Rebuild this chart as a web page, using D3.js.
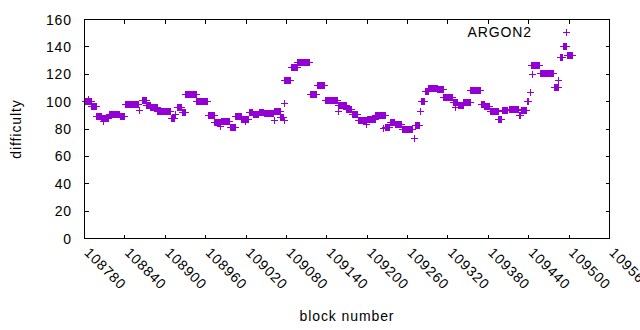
<!DOCTYPE html>
<html>
<head>
<meta charset="utf-8">
<script src="https://cdn.jsdelivr.net/npm/d3@7"></script>
<style>
  body { margin: 0; background: #fff; }
  text { font-family: "Liberation Sans", Arial, sans-serif; font-size: 14px; fill: #000; letter-spacing: 0.9px; }
</style>
</head>
<body>
<div id="main"></div>
<script>
// runs of blocks sharing the same difficulty
var runStart = [108781, 108785, 108789, 108797, 108804, 108808, 108816, 108832, 108840, 108861,
  108865, 108872, 108878, 108888, 108908, 108914, 108917, 108925, 108930, 108946,
  108963, 108973, 108982, 108983, 108996, 109004, 109013, 109018, 109024, 109030,
  109039, 109046, 109061, 109061, 109071, 109076, 109076, 109077, 109087, 109096,
  109115, 109125, 109137, 109156, 109157, 109169, 109177, 109186, 109198, 109199,
  109212, 109223, 109227, 109234, 109241, 109251, 109269, 109271, 109278, 109280,
  109286, 109291, 109304, 109313, 109327, 109331, 109335, 109343, 109353, 109369,
  109374, 109382, 109395, 109400, 109411, 109425, 109428, 109437, 109442, 109443,
  109445, 109456, 109477, 109484, 109486, 109491, 109497];
var runEnd = [108789, 108785, 108797, 108804, 108815, 108808, 108831, 108839, 108860, 108861,
  108871, 108877, 108887, 108907, 108913, 108914, 108924, 108929, 108945, 108962,
  108972, 108981, 108982, 108995, 109003, 109012, 109023, 109018, 109029, 109038,
  109045, 109060, 109061, 109070, 109075, 109076, 109076, 109086, 109095, 109114,
  109124, 109136, 109155, 109156, 109168, 109176, 109185, 109198, 109198, 109211,
  109226, 109223, 109233, 109240, 109250, 109266, 109269, 109277, 109278, 109285,
  109290, 109303, 109312, 109326, 109334, 109331, 109342, 109352, 109368, 109373,
  109381, 109394, 109399, 109408, 109424, 109427, 109436, 109439, 109442, 109455,
  109445, 109476, 109483, 109484, 109490, 109496, 109504];
var runValue = [100.8, 102, 96.5, 89.8, 88.4, 85.5, 91.2, 89.3, 98.6, 94,
  100.9, 97.7, 96.3, 93.5, 88.2, 91, 96.3, 92.4, 105.8, 100.8,
  90, 85.3, 82, 86.2, 81.3, 89.2, 87.5, 86, 92.4, 90.7,
  92.4, 92, 86.3, 93.5, 88.7, 98.7, 86.3, 116, 125.5, 129.1,
  105.3, 112.3, 101.4, 93.1, 97.7, 94.8, 91.2, 86.3, 84, 87,
  90.4, 81, 81.4, 85.1, 83.4, 80.3, 73.7, 82.7, 92.8, 100.7,
  108, 110.2, 109.4, 103.7, 99.5, 96, 97.5, 99.4, 108.7, 98.5,
  97, 93.1, 87.5, 93.8, 94.6, 90, 93.6, 100.2, 107, 127,
  120, 120.6, 110.9, 115.5, 132.8, 140.8, 134.2];

var xTicks = [108780, 108840, 108900, 108960, 109020, 109080, 109140, 109200,
  109260, 109320, 109380, 109440, 109500, 109560];
var yTicks = [0, 20, 40, 60, 80, 100, 120, 140, 160];
var seriesName = "ARGON2";

var COLOR = "#9400d3";
var W = 640, H = 330;
var margin = { top: 19.5, right: 30.5, bottom: 91.5, left: 84.5 };

// one point per block
var points = [];
for (var i = 0; i < runStart.length; i++) {
  for (var b = runStart[i]; b <= runEnd[i]; b++) {
    points.push([b, runValue[i]]);
  }
}

var svg = d3.select("#main").append("svg")
  .attr("width", W)
  .attr("height", H);

var x = d3.scaleLinear()
  .domain([xTicks[0], xTicks[xTicks.length - 1]])
  .range([margin.left, W - margin.right]);
var y = d3.scaleLinear()
  .domain([0, 160])
  .range([H - margin.bottom, margin.top]);

var plusPath = function(d) {
  var px = Math.round(x(d[0])) + 0.5, py = Math.round(y(d[1])) + 0.5, s = 3.5;
  return "M" + (px - s) + "," + py + "H" + (px + s) + "M" + px + "," + (py - s) + "V" + (py + s);
};

// ticks (inward, mirrored on all sides)
var tl = 4;
var ticks = svg.append("g").attr("stroke", "#000").attr("stroke-width", 1).attr("shape-rendering", "crispEdges");
xTicks.forEach(function(t) {
  var xx = Math.round(x(t) - 0.5) + 0.5;
  ticks.append("line").attr("x1", xx).attr("x2", xx).attr("y1", y(0)).attr("y2", y(0) - tl);
  ticks.append("line").attr("x1", xx).attr("x2", xx).attr("y1", y(160)).attr("y2", y(160) + tl);
});
yTicks.forEach(function(t) {
  var yy = Math.round(y(t) - 0.5) + 0.5;
  ticks.append("line").attr("x1", x.range()[0]).attr("x2", x.range()[0] + tl).attr("y1", yy).attr("y2", yy);
  ticks.append("line").attr("x1", x.range()[1]).attr("x2", x.range()[1] - tl).attr("y1", yy).attr("y2", yy);
});

// tick labels
svg.append("g").selectAll("text")
  .data(yTicks)
  .enter().append("text")
  .attr("x", 72)
  .attr("y", function(d) { return y(d); })
  .attr("dy", "0.36em")
  .attr("text-anchor", "end")
  .text(function(d) { return d; });

svg.append("g").selectAll("text")
  .data(xTicks)
  .enter().append("text")
  .attr("transform", function(d) { return "translate(" + (x(d) - 1) + "," + (y(0) + 15) + ") rotate(45)"; })
  .attr("text-anchor", "start")
  .text(function(d) { return d; });

// points
svg.append("g")
  .attr("fill", "none")
  .attr("stroke", COLOR)
  .attr("stroke-width", 1.4)
  .attr("shape-rendering", "crispEdges")
  .selectAll("path")
  .data(points)
  .enter().append("path")
  .attr("d", plusPath);

// border
svg.append("rect")
  .attr("x", x.range()[0])
  .attr("y", y(160))
  .attr("width", x.range()[1] - x.range()[0])
  .attr("height", y(0) - y(160))
  .attr("fill", "none")
  .attr("stroke", "#000")
  .attr("shape-rendering", "crispEdges");

// key
svg.append("text")
  .attr("x", 532)
  .attr("y", 37)
  .attr("text-anchor", "end")
  .text(seriesName);
svg.append("path")
  .attr("d", "M563,32.5H570M566.5,29V36")
  .attr("stroke", COLOR)
  .attr("stroke-width", 1.4)
  .attr("shape-rendering", "crispEdges");

// axis titles
svg.append("text")
  .attr("x", (x.range()[0] + x.range()[1]) / 2)
  .attr("y", 321)
  .attr("text-anchor", "middle")
  .text("block number");
svg.append("text")
  .attr("transform", "translate(21," + ((y(0) + y(160)) / 2) + ") rotate(-90)")
  .attr("text-anchor", "middle")
  .text("difficulty");
</script>
</body>
</html>
